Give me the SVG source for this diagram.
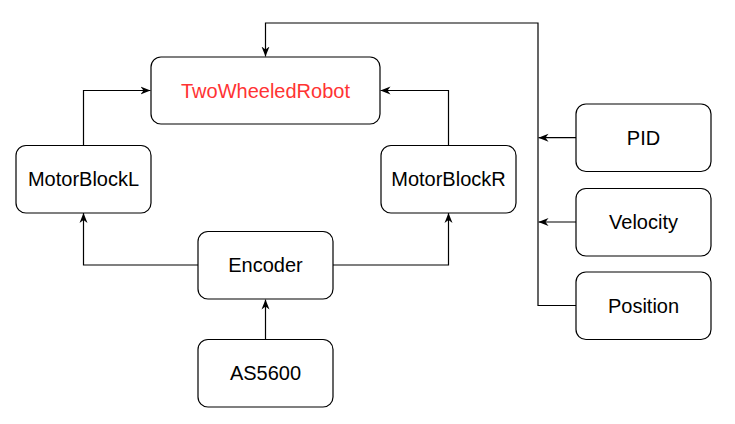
<svg xmlns="http://www.w3.org/2000/svg" width="735" height="424" viewBox="0 0 735 424">
<style>
.box{fill:#fff;stroke:#000;stroke-width:1.2}
.lbl{font-family:"Liberation Sans",Arial,sans-serif;font-size:20px;fill:#000;text-anchor:middle}
.red{fill:#ff3333}
.edge{fill:none;stroke:#000;stroke-width:1.2}
</style>
<defs>
<marker id="arr" markerUnits="userSpaceOnUse" markerWidth="10" markerHeight="10" viewBox="0 0 10 10" refX="10" refY="5" orient="auto">
<path d="M0,1 L10,5 L0,9 L3,5 Z" fill="#000"/>
</marker>
</defs>
<rect width="735" height="424" fill="#fff"/>
<g id="connectors">
<path class="edge" d="M198,265 H83.5 V213" marker-end="url(#arr)"/>
<path class="edge" d="M333,265 H448.5 V213" marker-end="url(#arr)"/>
<path class="edge" d="M265.5,339.5 V299.5" marker-end="url(#arr)"/>
<path class="edge" d="M83.5,145.5 V90.5 H150.5" marker-end="url(#arr)"/>
<path class="edge" d="M448.5,145.5 V90.5 H380.5" marker-end="url(#arr)"/>
<path class="edge" d="M576,137.7 H538.5" marker-end="url(#arr)"/>
<path class="edge" d="M576,222 H538.5" marker-end="url(#arr)"/>
<path class="edge" d="M576,305.5 H538 V23 H265.5 V56.5" marker-end="url(#arr)"/>
</g>
<g id="TwoWheeledRobot">
<rect class="box" x="151" y="57" width="229" height="67" rx="10"/>
<text class="lbl red" x="265.5" y="97.5">TwoWheeledRobot</text>
</g>
<g id="MotorBlockL">
<rect class="box" x="16" y="145.5" width="135" height="67.5" rx="10"/>
<text class="lbl" x="83.5" y="186">MotorBlockL</text>
</g>
<g id="MotorBlockR">
<rect class="box" x="381" y="145.5" width="135" height="67.5" rx="10"/>
<text class="lbl" x="448.5" y="186">MotorBlockR</text>
</g>
<g id="Encoder">
<rect class="box" x="198" y="231.5" width="135" height="67.5" rx="10"/>
<text class="lbl" x="265.5" y="272">Encoder</text>
</g>
<g id="AS5600">
<rect class="box" x="198" y="339.5" width="135" height="67.5" rx="10"/>
<text class="lbl" x="265.5" y="380">AS5600</text>
</g>
<g id="PID">
<rect class="box" x="576" y="104" width="135" height="67.5" rx="10"/>
<text class="lbl" x="643.5" y="144.5">PID</text>
</g>
<g id="Velocity">
<rect class="box" x="576" y="188.5" width="135" height="67.5" rx="10"/>
<text class="lbl" x="643.5" y="229">Velocity</text>
</g>
<g id="Position">
<rect class="box" x="576" y="272" width="135" height="67.5" rx="10"/>
<text class="lbl" x="643.5" y="312.5">Position</text>
</g>
</svg>
